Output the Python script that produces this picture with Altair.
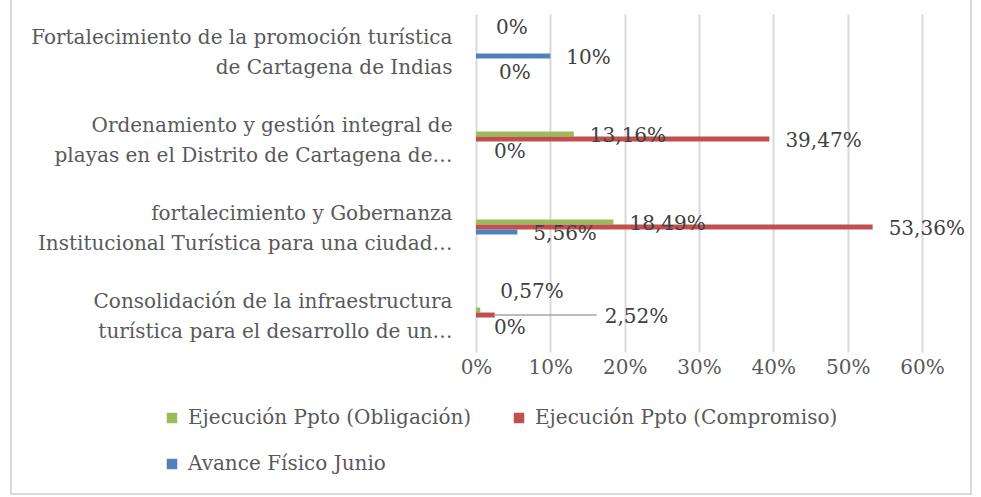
import altair as alt
import pandas as pd

categories = [
    "Fortalecimiento de la promoción turística|de Cartagena de Indias",
    "Ordenamiento y gestión integral de|playas en el Distrito de Cartagena de…",
    "fortalecimiento y Gobernanza|Institucional Turística para una ciudad…",
    "Consolidación de la infraestructura|turística para el desarrollo de un…",
]
series_names = [
    "Ejecución Ppto (Obligación)",
    "Ejecución Ppto (Compromiso)",
    "Avance Físico Junio",
]
obligacion = [0, 13.16, 18.49, 0.57]
compromiso = [0, 39.47, 53.36, 2.52]
avance = [10, 0, 5.56, 0]
x_ticks = [0, 0.1, 0.2, 0.3, 0.4, 0.5, 0.6]
colors = ["#9BBB59", "#C0504D", "#4F81BD"]


def fmt(v):
    if v == int(v):
        return f"{int(v)}%"
    return f"{v:.2f}".replace(".", ",") + "%"


def place(s, v):
    if s == series_names[0] and v < 1:
        return "above"
    if s == series_names[1] and v == 0:
        return "below"
    if s == series_names[1] and 0 < v < 5:
        return "leader"
    if s == series_names[2] and v == 0:
        return "zero"
    return "normal"


rows = []
for i, cat in enumerate(categories):
    for s, vals in zip(series_names, [obligacion, compromiso, avance]):
        v = vals[i]
        rows.append({"cat": cat, "serie": s, "v": v / 100.0,
                     "label": fmt(v), "place": place(s, v)})
df = pd.DataFrame(rows)

FONT = "DejaVu Serif"
FS = 20
W, H = 446, 338
LEFT, TOP = 476, 14

yenc = alt.Y("cat:N", sort=categories, title=None,
             scale=alt.Scale(paddingInner=0.83, paddingOuter=0.335),
             axis=alt.Axis(labelExpr="split(datum.label, '|')", labelFont=FONT,
                           labelFontSize=FS, labelColor="#595959",
                           labelLineHeight=30, labelPadding=24, labelLimit=600,
                           labelOffset=-13,
                           domain=False, ticks=False, grid=False))
yoff = alt.YOffset("serie:N", sort=series_names,
                   scale=alt.Scale(paddingInner=0, paddingOuter=0))
xenc = alt.X("v:Q", title=None, scale=alt.Scale(domain=[0, 0.6], nice=False),
             axis=alt.Axis(format="%", values=x_ticks, labelFont=FONT,
                           labelFontSize=FS, labelColor="#595959",
                           labelPadding=5, labelFlush=False, labelOverlap=False,
                           labelBound=False, domain=False, ticks=False,
                           grid=True, gridColor="#D9D9D9", gridWidth=2))

base = alt.Chart(df).encode(y=yenc, yOffset=yoff)

bars = base.mark_bar().encode(
    x=xenc,
    color=alt.Color("serie:N", scale=alt.Scale(domain=series_names, range=colors),
                    legend=alt.Legend(title=None, orient="none", columns=2,
                                      direction="horizontal",
                                      legendX=-314, legendY=394,
                                      symbolType="square", symbolSize=110,
                                      symbolStrokeWidth=0, labelFont=FONT,
                                      labelFontSize=FS, labelColor="#595959",
                                      labelOffset=6, columnPadding=37,
                                      rowPadding=26, labelLimit=600)),
)

txt_style = dict(align="left", baseline="middle", font=FONT, fontSize=FS,
                 color="#404040")

normal = base.transform_filter(alt.datum.place == "normal").mark_text(
    dx=16, dy=2, **txt_style).encode(x="v:Q", text="label:N")
above = base.transform_filter(alt.datum.place == "above").mark_text(
    dx=20, dy=-18, **txt_style).encode(x="v:Q", text="label:N")
below = base.transform_filter(alt.datum.place == "below").mark_text(
    dx=23, dy=22, **txt_style).encode(x="v:Q", text="label:N")
zero = base.transform_filter(alt.datum.place == "zero").mark_text(
    dx=18, dy=8, **txt_style).encode(x="v:Q", text="label:N")
leader_txt = base.transform_filter(alt.datum.place == "leader").mark_text(
    dx=110, dy=2, **txt_style).encode(x="v:Q", text="label:N")
leader_line = base.transform_filter(alt.datum.place == "leader").mark_rule(
    color="#A6A6A6", strokeWidth=1.5, x2Offset=102).encode(x="v:Q", x2="v:Q")

frame = alt.Chart(pd.DataFrame({"a": [0]})).mark_rect(
    fill=None, stroke="#D9D9D9", strokeWidth=2).encode(
    x=alt.value(11 - LEFT), x2=alt.value(971 - LEFT),
    y=alt.value(-30), y2=alt.value(494 - TOP))

chart = alt.layer(frame, bars, leader_line, normal, above, below, zero,
                  leader_txt).properties(
    width=W, height=H,
    autosize=alt.AutoSizeParams(type="none"),
    padding={"left": LEFT, "top": TOP, "right": 981 - LEFT - W,
             "bottom": 497 - TOP - H},
    background="white",
).configure_view(stroke=None)

chart.save("out.html", embed_options={"renderer": "svg", "actions": False})
